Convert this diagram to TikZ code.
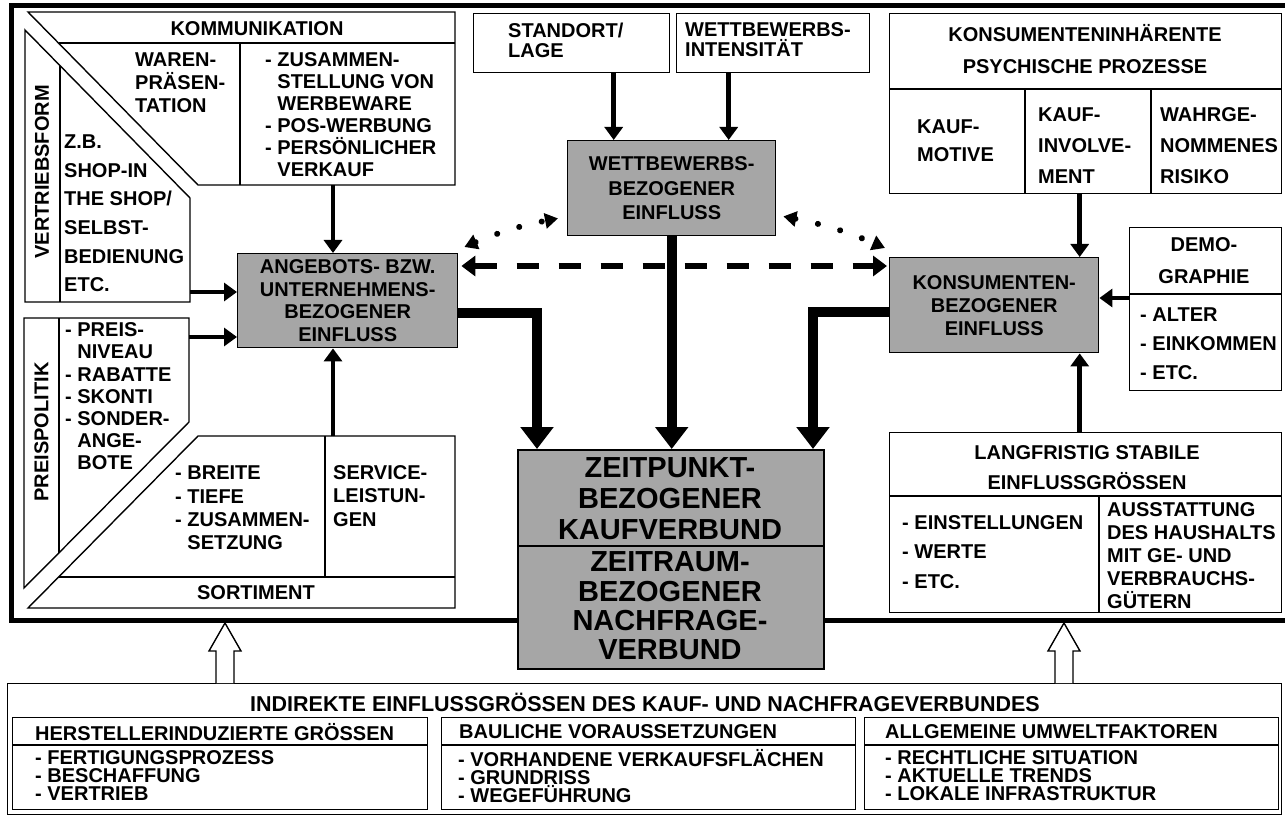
\documentclass[tikz,border=0pt]{standalone}
\usepackage{fontspec}
\setmainfont{Liberation Sans}
\usetikzlibrary{arrows.meta,calc}
\newcommand\fz[2]{\fontsize{#1}{#2}\selectfont\bfseries\lineskiplimit=-30pt\relax}
\begin{document}
\begin{tikzpicture}[x=1pt,y=-1pt,
  thin/.style={line width=1.4pt},
  box/.style={draw, line width=1.4pt, inner sep=0pt, anchor=north west},
  shaded/.style={box, fill=gray!70},
  txt/.style={inner sep=0pt, align=left, anchor=west},
  ctxt/.style={inner sep=0pt, align=center},
  med/.style={line width=4.5pt, -{Triangle[width=18pt,length=13pt]}},
  big/.style={line width=10pt, -{Triangle[width=32pt,length=22pt]}},
  frameline/.style={line width=5pt},
  dotarr/.style={line width=6pt, line cap=round, dash pattern=on 0.1pt off 23pt,
     {Triangle[width=15pt,length=13pt]}-{Triangle[width=15pt,length=13pt]}},
  dasharr/.style={line width=6pt, dash pattern=on 22pt off 20pt,
     {Triangle[width=20pt,length=14pt]}-{Triangle[width=20pt,length=14pt]}},
  hollow/.style={line width=1.4pt, fill=white},
]
\useasboundingbox (0,0) rectangle (1285,818);

% ---------- boxes ----------
\node[box, minimum width=196pt, minimum height=59pt] (standort) at (473,13) {};
\node[box, minimum width=193pt, minimum height=59pt] (intens) at (676,13) {};
\node[shaded, minimum width=208pt, minimum height=95pt, align=center, font=\fz{20}{24.5}] (wb) at (567,140) {WETTBEWERBS-\\BEZOGENER\\EINFLUSS};
\node[shaded, minimum width=220pt, minimum height=94pt, align=center, font=\fz{20}{22.7}] (ang) at (237,253) {ANGEBOTS- BZW.\\UNTERNEHMENS-\\BEZOGENER\\EINFLUSS};
\node[shaded, minimum width=209pt, minimum height=95pt, align=center, font=\fz{20}{23}] (kon) at (889,257) {KONSUMENTEN-\\BEZOGENER\\EINFLUSS};
\node[box, minimum width=392pt, minimum height=180pt] (kinh) at (889,13) {};
\node[box, minimum width=152pt, minimum height=163pt] (demo) at (1129,227) {};
\node[box, minimum width=392pt, minimum height=180pt] (lang) at (889,432) {};

% ---------- frame ----------
\draw[frameline] (1285,5.5) -- (11,5.5) -- (11,620) -- (517,620);
\draw[frameline] (823,620) -- (1285,620);

\node[shaded, line width=2pt, minimum width=306pt, minimum height=219pt] (zp) at (517,449) {};
\draw[line width=2pt] ($(zp.north west)+(0,97)$) -- ($(zp.north east)+(0,97)$);
\node[ctxt, font=\fz{29}{31}] (zp1) at (670,499) {ZEITPUNKT-\\BEZOGENER\\KAUFVERBUND};
\node[ctxt, font=\fz{29}{29.3}] (zp2) at (670,606) {ZEITRAUM-\\BEZOGENER\\NACHFRAGE-\\VERBUND};

% ---------- Kommunikation ----------
\draw[thin] (28,12) -- (455,12) -- (455,185) -- (198,185) -- cycle;
\draw[thin] (59,43) -- (455,43);
\draw[thin] (240,43) -- (240,185);
\node[ctxt, font=\fz{20}{22}] (komm) at (257,28.5) {KOMMUNIKATION};
\node[txt, font=\fz{20}{23}] (waren) at (135,83) {WAREN-\\PRÄSEN-\\TATION};
\node[txt, font=\fz{20}{22}] (zus) at (265,115) {- ZUSAMMEN-\\\phantom{- }STELLUNG VON\\\phantom{- }WERBEWARE\\- POS-WERBUNG\\- PERSÖNLICHER\\\phantom{- }VERKAUF};

% ---------- Vertriebsform ----------
\draw[thin] (25,30) -- (190,198) -- (190,302) -- (25,302) -- cycle;
\draw[thin] (60,66) -- (60,302);
\node[rotate=90, ctxt, font=\fz{20}{22}] (vf) at (42,172) {VERTRIEBSFORM};
\node[txt, font=\fz{20}{28.6}] (vft) at (64,213.5) {Z.B.\\SHOP-IN\\THE SHOP/\\SELBST-\\BEDIENUNG\\ETC.};

% ---------- Preispolitik ----------
\draw[thin] (24,318) -- (189,318) -- (189,422) -- (24,588) -- cycle;
\draw[thin] (59,318) -- (59,553);
\node[rotate=90, ctxt, font=\fz{20}{22}] (pp) at (41.5,432) {PREISPOLITIK};
\node[txt, font=\fz{20}{22.2}] (ppt) at (65,396.5) {- PREIS-\\\phantom{- }NIVEAU\\- RABATTE\\- SKONTI\\- SONDER-\\\phantom{- }ANGE-\\\phantom{- }BOTE};

% ---------- Sortiment ----------
\draw[thin] (28,608) -- (198,436) -- (455,436) -- (455,608) -- cycle;
\draw[thin] (59,577) -- (455,577);
\draw[thin] (325,436) -- (325,577);
\node[ctxt, font=\fz{20}{22}] (sort) at (256,593) {SORTIMENT};
\node[txt, font=\fz{20}{23.3}] (sortt) at (175,508) {- BREITE\\- TIEFE\\- ZUSAMMEN-\\\phantom{- }SETZUNG};
\node[txt, font=\fz{20}{23.3}] (serv) at (333,496) {SERVICE-\\LEISTUN-\\GEN};

% ---------- top middle ----------
\node[txt, font=\fz{20}{20}] (stt) at (508,40) {STANDORT/\\LAGE};
\node[txt, font=\fz{20}{20}] (intt) at (685,40) {WETTBEWERBS-\\INTENSITÄT};

% ---------- right side ----------
\draw[thin] ($(kinh.north west)+(0,76)$) -- ($(kinh.north east)+(0,76)$);
\draw[thin] (1025,89) -- (1025,193);
\draw[thin] (1151,89) -- (1151,193);
\node[ctxt, font=\fz{20}{32}] (kinht) at (1085,49) {KONSUMENTENINHÄRENTE\\PSYCHISCHE PROZESSE};
\node[txt, font=\fz{20}{28}] (kmot) at (917,141) {KAUF-\\MOTIVE};
\node[txt, font=\fz{20}{31}] (kinv) at (1038,146) {KAUF-\\INVOLVE-\\MENT};
\node[txt, font=\fz{20}{31}] (kris) at (1160,146) {WAHRGE-\\NOMMENES\\RISIKO};

\draw[thin] ($(demo.north west)+(0,67)$) -- ($(demo.north east)+(0,67)$);
\node[ctxt, font=\fz{20}{32}] (demot) at (1204,261) {DEMO-\\GRAPHIE};
\node[txt, font=\fz{20}{29}] (demol) at (1140,344) {- ALTER\\- EINKOMMEN\\- ETC.};

\draw[thin] ($(lang.north west)+(0,64)$) -- ($(lang.north east)+(0,64)$);
\draw[thin] (1099,496) -- (1099,612);
\node[ctxt, font=\fz{20}{30}] (langt) at (1087,468) {LANGFRISTIG STABILE\\EINFLUSSGRÖSSEN};
\node[txt, font=\fz{20}{29.5}] (langl) at (902,552) {- EINSTELLUNGEN\\- WERTE\\- ETC.};
\node[txt, font=\fz{20}{23}] (langr) at (1107,556) {AUSSTATTUNG\\DES HAUSHALTS\\MIT GE- UND\\VERBRAUCHS-\\GÜTERN};

% ---------- bottom ----------
\node[box, minimum width=1274pt, minimum height=131pt] (ind) at (7,683) {};
\node[box, minimum width=415pt, minimum height=92pt] (b1) at (12,717) {};
\node[box, minimum width=414pt, minimum height=92pt] (b2) at (441,717) {};
\node[box, minimum width=414pt, minimum height=92pt] (b3) at (864,717) {};
\foreach \b in {b1,b2,b3} \draw[thin] ($(\b.north west)+(0,28)$) -- ($(\b.north east)+(0,28)$);
\node[ctxt, font=\fz{21.5}{22}] (indt) at (645,702) {INDIREKTE EINFLUSSGRÖSSEN DES KAUF- UND NACHFRAGEVERBUNDES};
\node[txt, font=\fz{20}{22}] (b1h) at (35,732) {HERSTELLERINDUZIERTE GRÖSSEN};
\node[txt, font=\fz{20}{18}] (b1t) at (35,776) {- FERTIGUNGSPROZESS\\- BESCHAFFUNG\\- VERTRIEB};
\node[txt, font=\fz{20}{22}] (b2h) at (459,732) {BAULICHE VORAUSSETZUNGEN};
\node[txt, font=\fz{20}{18}] (b2t) at (458,776) {- VORHANDENE VERKAUFSFLÄCHEN\\- GRUNDRISS\\- WEGEFÜHRUNG};
\node[txt, font=\fz{20}{22}] (b3h) at (885,732) {ALLGEMEINE UMWELTFAKTOREN};
\node[txt, font=\fz{20}{18}] (b3t) at (885,776) {- RECHTLICHE SITUATION\\- AKTUELLE TRENDS\\- LOKALE INFRASTRUKTUR};

% hollow arrows
\coordinate (h1) at (225,683);
\coordinate (h2) at (1064,683);
\foreach \h in {h1,h2}
  \draw[hollow] ($(\h)+(-9,0)$) -- ++(0,-32) -- ++(-7,0) -- ++(16,-28) -- ++(16,28) -- ++(-7,0) -- ++(0,32);

% ---------- connectors ----------
\coordinate (kommb) at (333,185);
\draw[med] (kommb) -- (kommb |- ang.north);
\coordinate (sortb) at (333,436);
\draw[med] (sortb) -- (sortb |- ang.south);
\coordinate (vfr) at (190,292);
\draw[med] (vfr) -- (vfr -| ang.west);
\coordinate (ppr) at (189,337);
\draw[med] (ppr) -- (ppr -| ang.west);
\coordinate (sta) at ($(standort.south)+(42,0)$);
\draw[med] (sta) -- (sta |- wb.north);
\coordinate (ina) at ($(intens.south)+(-44.5,0)$);
\draw[med] (ina) -- (ina |- wb.north);
\coordinate (kia) at ($(kinh.south)+(-6,0)$);
\draw[med] (kia) -- (kia |- kon.north);
\coordinate (lga) at ($(lang.north)+(-6,0)$);
\draw[med] (lga) -- (lga |- kon.south);
\coordinate (dma) at ($(demo.north west)+(0,71)$);
\draw[med] (dma) -- (dma -| kon.east);

\draw[big] ($(ang.east)+(0,12)$) -| ($(zp.north west)+(20,0)$);
\draw[big] (wb.south) -- (wb.south |- zp.north);
\draw[big] ($(kon.west)+(0,7)$) -| ($(zp.north east)+(-12,0)$);

\draw[dasharr] ($(ang.north east)+(3,13)$) -- ($(kon.north west)+(-2,9)$);
\draw[dotarr] ($(ang.north east)+(6,-6)$) to[bend left=6] ($(wb.south west)+(-9,-18)$);
\draw[dotarr] ($(wb.south east)+(7,-20)$) to[bend left=6] ($(kon.north west)+(-4,-9)$);
\end{tikzpicture}
\end{document}
